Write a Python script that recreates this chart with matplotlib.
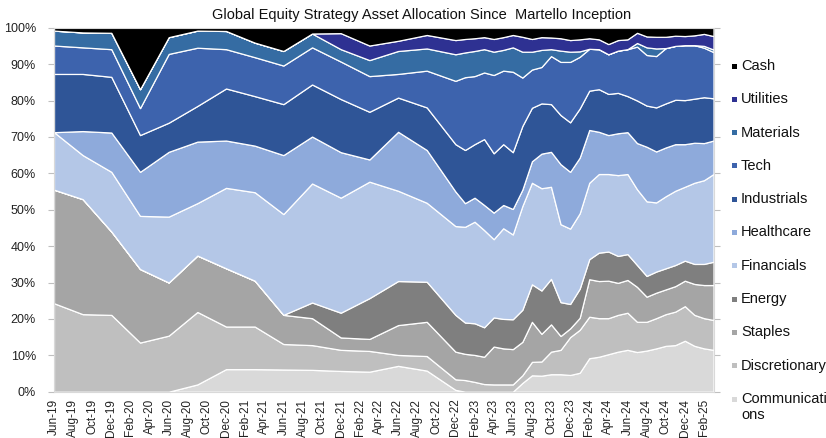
"""Global equity strategy asset allocation - stacked area chart"""
import numpy as np
import pandas as pd
import matplotlib.pyplot as plt
from matplotlib.patches import Rectangle

plt.rcParams['font.family'] = ['Liberation Sans', 'DejaVu Sans']

# Rebalance dates: quarterly to Sep-22, monthly afterwards
dates = ['2019-06', '2019-09', '2019-12', '2020-03', '2020-06', '2020-09', '2020-12',
         '2021-03', '2021-06', '2021-09', '2021-12', '2022-03', '2022-06', '2022-09',
         '2022-12', '2023-01', '2023-02', '2023-03', '2023-04', '2023-05', '2023-06',
         '2023-07', '2023-08', '2023-09', '2023-10', '2023-11', '2023-12', '2024-01',
         '2024-02', '2024-03', '2024-04', '2024-05', '2024-06', '2024-07', '2024-08',
         '2024-09', '2024-10', '2024-11', '2024-12', '2025-01', '2025-02', '2025-03']

# Weights in % (bottom of the stack first)
communications = [0, 0, 0, 0, 0, 2.0, 6.2, 6.2, 6.1, 6.0, 5.7, 5.5, 7.1, 5.8,
                  0.5, 0, 0, 0, 0, 0, 0, 2.4, 4.5, 4.4, 4.8, 4.8, 4.6, 5.2,
                  9.2, 9.6, 10.3, 11.0, 11.5, 10.9, 11.3, 11.9, 12.6, 12.8, 14.0, 12.6, 11.9, 11.5]
discretionary = [24.3, 21.3, 21.1, 13.5, 15.4, 19.9, 11.7, 11.7, 7.0, 6.8, 5.8, 5.7, 3.0, 4.0,
                 2.9, 3.2, 2.7, 2.1, 2.0, 2.0, 2.0, 2.1, 3.7, 3.9, 6.2, 6.7, 10.4, 11.8,
                 11.4, 10.6, 9.9, 10.1, 10.2, 8.3, 7.9, 8.3, 8.7, 9.2, 9.5, 8.5, 8.3, 8.2]
staples = [31.2, 31.6, 22.9, 20.2, 14.6, 15.5, 16.0, 12.6, 8.0, 7.4, 3.4, 3.3, 8.2, 9.4,
           7.6, 7.2, 7.4, 7.5, 10.4, 9.9, 9.7, 9.2, 11.0, 7.6, 7.5, 3.8, 2.4, 3.3,
           10.3, 10.2, 10.3, 8.8, 9.0, 9.6, 6.9, 7.0, 6.8, 7.0, 7.0, 8.5, 9.1, 9.6]
energy = [0, 0, 0, 0, 0, 0, 0, 0, 0, 4.3, 6.8, 11.2, 12.1, 11.0,
          10.1, 8.6, 8.7, 8.1, 8.0, 8.1, 8.2, 8.8, 10.3, 11.9, 12.5, 9.3, 6.7, 8.0,
          5.5, 7.8, 8.0, 7.4, 7.1, 6.0, 5.7, 5.8, 5.8, 5.8, 5.5, 5.5, 5.8, 6.4]
financials = [15.8, 12.1, 16.4, 14.6, 18.1, 14.4, 22.1, 24.3, 27.7, 32.7, 31.6, 32.0, 24.8, 21.7,
              24.4, 26.3, 27.9, 26.7, 21.5, 24.9, 23.3, 28.5, 27.9, 28.1, 25.3, 21.4, 20.7, 20.7,
              21.0, 21.6, 21.3, 22.2, 22.0, 20.8, 20.5, 19.0, 19.8, 20.4, 20.3, 22.3, 23.0, 24.1]
healthcare = [0, 6.6, 10.8, 12.1, 17.8, 16.9, 13.0, 12.8, 16.2, 12.9, 12.5, 6.1, 16.2, 14.5,
              9.5, 6.5, 6.6, 6.9, 7.3, 6.4, 7.0, 4.5, 5.9, 9.5, 9.6, 16.5, 15.6, 15.3,
              14.5, 11.6, 10.7, 11.5, 11.5, 12.7, 15.0, 14.0, 13.4, 12.8, 11.7, 11.0, 10.2, 9.2]
industrials = [16.0, 15.7, 15.3, 10.1, 8.0, 9.8, 14.3, 13.6, 14.0, 14.3, 14.6, 13.1, 9.4, 11.7,
               13.0, 14.6, 14.7, 18.1, 16.3, 16.7, 15.6, 17.5, 14.7, 13.8, 13.1, 13.5, 13.6, 13.5,
               10.8, 11.7, 11.3, 11.1, 9.9, 11.7, 11.3, 12.1, 12.1, 12.2, 12.1, 12.1, 12.6, 11.6]
tech = [7.8, 7.3, 7.6, 7.4, 18.9, 16.0, 10.8, 10.7, 10.6, 10.2, 10.3, 9.8, 6.5, 10.1,
        17.4, 20.0, 18.7, 18.3, 21.5, 20.2, 22.1, 13.3, 10.5, 10.0, 13.2, 14.6, 16.6, 14.2,
        11.5, 11.0, 10.9, 11.6, 12.9, 14.8, 13.9, 14.1, 15.2, 14.8, 15.1, 14.7, 13.6, 12.7]
materials = [4.1, 4.1, 4.5, 5.2, 4.6, 4.7, 5.0, 4.0, 4.0, 3.8, 3.4, 4.4, 6.3, 6.1,
             7.3, 6.8, 6.9, 6.4, 6.4, 5.7, 6.7, 7.1, 4.9, 4.7, 1.9, 3.1, 2.8, 1.5,
             0, 0, 0, 0, 0, 1.0, 2.1, 2.1, 0, 0, 0, 0, 0.5, 0.7]
utilities = [0, 0, 0, 0, 0, 0, 0, 0, 0, 0, 4.4, 4.0, 2.8, 3.7,
             3.9, 3.7, 3.5, 3.3, 3.5, 3.5, 3.4, 4.1, 3.5, 3.5, 3.2, 3.4, 3.2, 3.3,
             2.9, 2.7, 2.8, 2.9, 2.7, 2.8, 3.0, 3.2, 3.1, 2.8, 2.5, 2.7, 3.3, 3.7]
cash = [0.8, 1.3, 1.4, 16.9, 2.6, 0.8, 0.9, 4.1, 6.4, 1.6, 1.5, 4.9, 3.6, 2.0,
        3.4, 3.1, 2.9, 2.6, 3.1, 2.6, 2.0, 2.5, 3.1, 2.6, 2.7, 2.9, 3.4, 3.2,
        2.9, 3.2, 4.5, 3.4, 3.2, 1.4, 2.4, 2.5, 2.5, 2.2, 2.3, 2.1, 1.7, 2.3]

labels = ['Communications', 'Discretionary', 'Staples', 'Energy', 'Financials', 'Healthcare',
          'Industrials', 'Tech', 'Materials', 'Utilities', 'Cash']
series = [communications, discretionary, staples, energy, financials, healthcare,
          industrials, tech, materials, utilities, cash]
colors = ['#D9D9D9', '#BFBFBF', '#A5A5A5', '#7F7F7F', '#B4C7E7', '#8EAADB',
          '#2F5597', '#3D63AD', '#356CA3', '#2E3192', '#000000']

# month offsets from Jun-19 (x positions on a date-like axis)
per = pd.PeriodIndex(dates, freq='M')
x = np.array([(p.year - 2019) * 12 + p.month - 6 for p in per])

W, H = 826, 438
fig = plt.figure(figsize=(W / 100, H / 100), dpi=100)
ax = fig.add_axes([54 / W, 1 - 391.7 / H, (713.5 - 54) / W, (391.7 - 27.7) / H])

ax.stackplot(x, *series, colors=colors, edgecolor='white', linewidth=0.9)

ax.set_xlim(0, 69)
ax.set_ylim(0, 100)

# y axis
ax.set_yticks(range(0, 101, 10))
ax.set_yticklabels([f'{v}%' for v in range(0, 101, 10)])
ax.tick_params(axis='y', left=True, right=True, length=4, width=0.8, color='#BFBFBF',
               labelsize=9, labelcolor='#222222', pad=9)

# x axis: a label every two months
tick_dates = pd.date_range('2019-06-01', '2025-02-01', freq='2MS')
ax.set_xticks(np.arange(0, 2 * len(tick_dates), 2))
ax.set_xticklabels(tick_dates.strftime('%b-%y'), rotation=90)
ax.tick_params(axis='x', length=0, labelsize=8.5, labelcolor='#222222', pad=5)

for s in ax.spines.values():
    s.set_color('#D9D9D9')
    s.set_linewidth(0.8)

fig.text(422 / W, 1 - 15 / H, 'Global Equity Strategy Asset Allocation Since  Martello Inception',
         ha='center', va='center', fontsize=10.5, color='#111111')

# legend (top to bottom: reverse of stack order)
step = 33.3
for i, (name, col) in enumerate(zip(labels[::-1], colors[::-1])):
    yc = 66 + step * i
    fig.patches.append(Rectangle((732 / W, 1 - (yc + 2.5) / H), 5 / W, 5 / H,
                                 transform=fig.transFigure, facecolor=col, edgecolor='none'))
    if name == 'Communications':
        fig.text(741 / W, 1 - (yc + 8) / H, 'Communicati\nons', ha='left', va='center',
                 fontsize=10.5, color='#111111', linespacing=1.1)
    else:
        fig.text(741 / W, 1 - yc / H, name, ha='left', va='center', fontsize=10.5, color='#111111')

fig.savefig('out.png', dpi=100)
